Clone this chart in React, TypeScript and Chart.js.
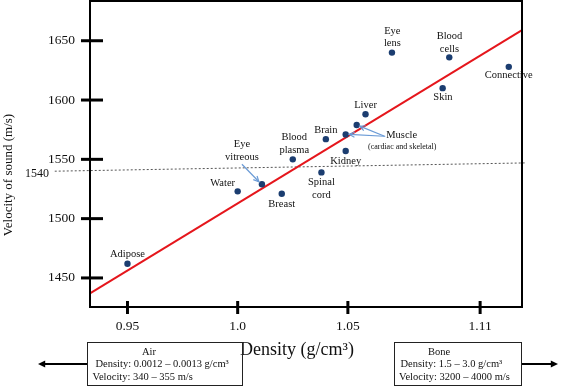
import React, { useEffect, useRef } from 'react';
import { Chart, registerables } from 'chart.js';

Chart.register(...registerables);

const FONT = '"Liberation Serif", "Times New Roman", serif';

// ---- data ----
const TISSUES = ['Adipose', 'Water', 'Eye vitreous', 'Breast', 'Blood plasma', 'Spinal cord', 'Brain', 'Kidney', 'Muscle (cardiac)', 'Muscle (skeletal)', 'Liver', 'Eye lens', 'Skin', 'Blood cells', 'Connective'];
const DENSITY = [0.95, 1.0, 1.011, 1.02, 1.025, 1.038, 1.04, 1.049, 1.054, 1.049, 1.058, 1.07, 1.093, 1.096, 1.123];
const VELOCITY = [1462, 1523, 1529, 1521, 1550, 1539, 1567, 1557, 1579, 1571, 1588, 1640, 1610, 1636, 1628];

const FIT_DENSITY = [0.933, 1.129];
const FIT_VELOCITY = [1437, 1659];

const REF_DENSITY = [0.917, 1.131];
const REF_VELOCITY = [1540, 1547];
const REF_LABEL = '1540';

const X_RANGE = [0.933, 1.129];
const Y_RANGE = [1425.5, 1683.5];
const X_TICKS = [0.95, 1.0, 1.05, 1.11];
const X_TICK_LABELS = ['0.95', '1.0', '1.05', '1.11'];
const Y_TICKS = [1450, 1500, 1550, 1600, 1650];

const X_TITLE = 'Density (g/cm³)';
const Y_TITLE = 'Velocity of sound (m/s)';

const AIR_LINES = ['Air', 'Density: 0.0012 – 0.0013 g/cm³', 'Velocity: 340 – 355 m/s'];
const BONE_LINES = ['Bone', 'Density: 1.5 – 3.0 g/cm³', 'Velocity: 3200 – 4000 m/s'];

// ---- annotation layout (offsets from point pixels) ----
type Note = { idx: number; lines: string[]; dx: number; dy: number; size?: number };
const NOTES: Note[] = [
  { idx: 0, lines: ['Adipose'], dx: 0, dy: -9 },
  { idx: 1, lines: ['Water'], dx: -15, dy: -8 },
  { idx: 2, lines: ['Eye', 'vitreous'], dx: -20, dy: -40 },
  { idx: 3, lines: ['Breast'], dx: 0, dy: 10.5 },
  { idx: 4, lines: ['Blood', 'plasma'], dx: 1.5, dy: -22 },
  { idx: 5, lines: ['Spinal', 'cord'], dx: 0, dy: 10 },
  { idx: 6, lines: ['Brain'], dx: 0, dy: -8.5 },
  { idx: 7, lines: ['Kidney'], dx: 0, dy: 10.3 },
  { idx: 9, lines: ['Muscle'], dx: 56, dy: 1.3 },
  { idx: 9, lines: ['(cardiac and skeletal)'], dx: 56.5, dy: 12, size: 8 },
  { idx: 10, lines: ['Liver'], dx: 0, dy: -8.7 },
  { idx: 11, lines: ['Eye', 'lens'], dx: 0.4, dy: -21.6 },
  { idx: 12, lines: ['Skin'], dx: 0.3, dy: 9.4 },
  { idx: 13, lines: ['Blood', 'cells'], dx: 0.2, dy: -20.6 },
  { idx: 14, lines: ['Connective'], dx: 0, dy: 8.3 },
];

type Arrow = { idx: number; from: [number, number]; to: [number, number] };
const ARROWS: Arrow[] = [
  { idx: 2, from: [-20, -20], to: [-3, -2.5] },
  { idx: 8, from: [28.5, 11.5], to: [3, 1.2] },
  { idx: 9, from: [38.5, 1.8], to: [3.5, 0] },
];

function arrowHead(ctx: CanvasRenderingContext2D, x1: number, y1: number, x2: number, y2: number, len: number, open: boolean) {
  const a = Math.atan2(y2 - y1, x2 - x1);
  const s = 0.45;
  ctx.beginPath();
  ctx.moveTo(x2 - len * Math.cos(a - s), y2 - len * Math.sin(a - s));
  ctx.lineTo(x2, y2);
  ctx.lineTo(x2 - len * Math.cos(a + s), y2 - len * Math.sin(a + s));
  if (open) ctx.stroke();
  else {
    ctx.closePath();
    ctx.fill();
  }
}

const decorPlugin = {
  id: 'decor',
  afterDatasetsDraw(chart: any) {
    const { ctx, chartArea: ca, scales } = chart;
    const xs = scales.x;
    const ys = scales.y;
    ctx.save();

    // frame
    ctx.strokeStyle = '#000';
    ctx.lineWidth = 2;
    ctx.strokeRect(ca.left, ca.top, ca.right - ca.left, ca.bottom - ca.top);

    // tick crosses
    ctx.lineWidth = 3;
    ys.ticks.forEach((t: any) => {
      const py = ys.getPixelForValue(t.value);
      ctx.beginPath();
      ctx.moveTo(ca.left - 9, py);
      ctx.lineTo(ca.left + 13, py);
      ctx.stroke();
    });
    xs.ticks.forEach((t: any) => {
      const px = xs.getPixelForValue(t.value);
      ctx.beginPath();
      ctx.moveTo(px, ca.bottom - 6);
      ctx.lineTo(px, ca.bottom + 7);
      ctx.stroke();
    });

    // 1540 label
    ctx.fillStyle = '#111';
    ctx.font = `12px ${FONT}`;
    ctx.textAlign = 'right';
    ctx.textBaseline = 'middle';
    ctx.fillText(REF_LABEL, 49, ys.getPixelForValue(REF_VELOCITY[0]) + 3);

    // point labels
    ctx.textAlign = 'center';
    NOTES.forEach((n) => {
      const px = xs.getPixelForValue(DENSITY[n.idx]);
      const py = ys.getPixelForValue(VELOCITY[n.idx]);
      ctx.font = `${n.size || 10.5}px ${FONT}`;
      n.lines.forEach((line, k) => {
        ctx.fillText(line, px + n.dx, py + n.dy + k * 12.6);
      });
    });

    // annotation arrows
    ctx.strokeStyle = '#6b9bd6';
    ctx.fillStyle = '#6b9bd6';
    ctx.lineWidth = 1.2;
    ARROWS.forEach((a) => {
      const px = xs.getPixelForValue(DENSITY[a.idx]);
      const py = ys.getPixelForValue(VELOCITY[a.idx]);
      const x1 = px + a.from[0], y1 = py + a.from[1];
      const x2 = px + a.to[0], y2 = py + a.to[1];
      ctx.beginPath();
      ctx.moveTo(x1, y1);
      ctx.lineTo(x2, y2);
      ctx.stroke();
      arrowHead(ctx, x1, y1, x2, y2, 6, true);
    });

    // axis titles
    ctx.fillStyle = '#111';
    ctx.textAlign = 'center';
    ctx.textBaseline = 'middle';
    ctx.font = `18px ${FONT}`;
    ctx.fillText(X_TITLE, 297, 350);
    ctx.save();
    ctx.translate(8.5, 175);
    ctx.rotate(-Math.PI / 2);
    ctx.font = `13px ${FONT}`;
    ctx.fillText(Y_TITLE, 0, 0);
    ctx.restore();

    // Air / Bone boxes
    ctx.strokeStyle = '#222';
    ctx.lineWidth = 1;
    ctx.strokeRect(87.5, 342.5, 155, 43);
    ctx.strokeRect(394.5, 342.5, 127, 43);
    ctx.font = `10.5px ${FONT}`;
    ctx.fillStyle = '#111';
    ctx.textAlign = 'center';
    ctx.fillText(AIR_LINES[0], 149, 352);
    ctx.fillText(BONE_LINES[0], 439, 352);
    ctx.textAlign = 'left';
    ctx.fillText(AIR_LINES[1], 95.5, 364.5);
    ctx.fillText(AIR_LINES[2], 92.5, 377.5);
    ctx.fillText(BONE_LINES[1], 400.5, 364.5);
    ctx.fillText(BONE_LINES[2], 399, 377.5);

    // black arrows
    ctx.strokeStyle = '#000';
    ctx.fillStyle = '#000';
    ctx.lineWidth = 2;
    ctx.beginPath();
    ctx.moveTo(87, 364);
    ctx.lineTo(42, 364);
    ctx.stroke();
    arrowHead(ctx, 87, 364, 38, 364, 8, false);
    ctx.beginPath();
    ctx.moveTo(522, 364);
    ctx.lineTo(554, 364);
    ctx.stroke();
    arrowHead(ctx, 522, 364, 558, 364, 8, false);

    ctx.restore();
  },
};

export default function App() {
  const ref = useRef<HTMLCanvasElement | null>(null);

  useEffect(() => {
    if (!ref.current) return;
    Chart.defaults.font.family = FONT;
    const chart = new Chart(ref.current, {
      type: 'scatter',
      data: {
        datasets: [
          {
            label: 'Tissues',
            data: TISSUES.map((_, i) => ({ x: DENSITY[i], y: VELOCITY[i] })),
            backgroundColor: '#1b3d70',
            borderWidth: 0,
            pointRadius: 3.2,
          },
          {
            label: 'Fit',
            data: FIT_DENSITY.map((x, i) => ({ x, y: FIT_VELOCITY[i] })),
            showLine: true,
            borderColor: '#e5161c',
            borderWidth: 2,
            pointRadius: 0,
            clip: false,
          } as any,
          {
            label: '1540 m/s',
            data: REF_DENSITY.map((x, i) => ({ x, y: REF_VELOCITY[i] })),
            showLine: true,
            borderColor: '#555',
            borderWidth: 1,
            borderDash: [2, 2],
            pointRadius: 0,
            clip: false,
          } as any,
        ],
      },
      options: {
        responsive: true,
        maintainAspectRatio: false,
        animation: false,
        layout: { autoPadding: false, padding: { left: 0, right: 39, top: 1, bottom: 0 } },
        plugins: { legend: { display: false }, tooltip: { enabled: false } },
        scales: {
          x: {
            type: 'linear',
            min: X_RANGE[0],
            max: X_RANGE[1],
            afterBuildTicks: (s: any) => {
              s.ticks = X_TICKS.map((v) => ({ value: v }));
            },
            afterFit: (s: any) => {
              s.height = 79;
              s.paddingLeft = 0;
              s.paddingRight = 0;
              s.paddingTop = 0;
              s.paddingBottom = 0;
            },
            ticks: {
              callback: (_v: any, i: number) => X_TICK_LABELS[i],
              font: { family: FONT, size: 13.5 },
              color: '#111',
              padding: 11,
              autoSkip: false,
              maxRotation: 0,
            },
            grid: { display: false, drawTicks: false },
            border: { display: false },
          },
          y: {
            type: 'linear',
            min: Y_RANGE[0],
            max: Y_RANGE[1],
            afterBuildTicks: (s: any) => {
              s.ticks = Y_TICKS.map((v) => ({ value: v }));
            },
            afterFit: (s: any) => {
              s.width = 90;
              s.paddingLeft = 0;
              s.paddingRight = 0;
              s.paddingTop = 0;
              s.paddingBottom = 0;
            },
            ticks: {
              callback: (v: any) => String(v),
              font: { family: FONT, size: 13.5 },
              color: '#111',
              padding: 15,
              autoSkip: false,
            },
            grid: { display: false, drawTicks: false },
            border: { display: false },
          },
        },
      },
      plugins: [decorPlugin],
    } as any);
    return () => chart.destroy();
  }, []);

  return (
    <div style={{ position: 'fixed', left: 0, top: 0, width: 561, height: 386, background: '#fff' }}>
      <canvas ref={ref} />
    </div>
  );
}
